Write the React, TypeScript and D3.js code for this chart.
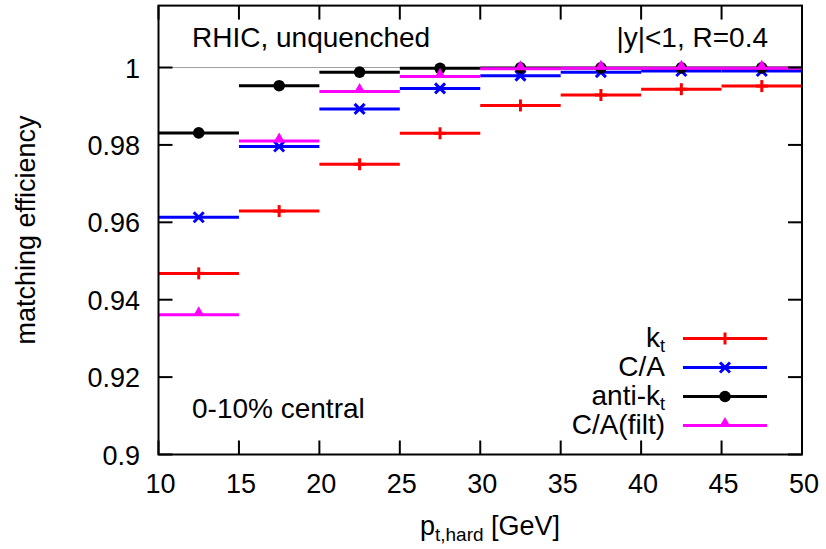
import React from "react";
import * as d3 from "d3";

const binLows = [10, 15, 20, 25, 30, 35, 40, 45];
const binWidth = 5;
const ktValues = [0.9468, 0.9629, 0.975, 0.983, 0.9902, 0.9929, 0.9944, 0.9952];
const caValues = [0.9613, 0.9796, 0.9893, 0.9946, 0.9979, 0.9988, 0.9991, 0.9991];
const antiKtValues = [0.9831, 0.9953, 0.9988, 0.9998, 0.9999, 0.9999, 0.9999, 0.9999];
const caFiltValues = [0.9361, 0.981, 0.9938, 0.9977, 0.9997, 0.9998, 0.9998, 0.9998];
const xTicks = [10, 15, 20, 25, 30, 35, 40, 45, 50];
const yTicks = [0.9, 0.92, 0.94, 0.96, 0.98, 1];
const yTickLabels = ["0.9", "0.92", "0.94", "0.96", "0.98", "1"];

const W = 826;
const H = 549;
const L = 158.5, R = 802, T = 5.6, B = 454.5;
const FONT = "'Liberation Sans', Arial, Helvetica, sans-serif";

const x = d3.scaleLinear().domain([10, 50]).range([L, R]);
const y = d3.scaleLinear().domain([0.9, 1.016]).range([B, T]);

type Kind = "plus" | "cross" | "circle" | "triangle";

function Marker({ cx, cy, kind, color }: { cx: number; cy: number; kind: Kind; color: string }) {
  if (kind === "plus") {
    const s = 6;
    return (
      <g stroke={color} strokeWidth={3}>
        <line x1={cx - s} x2={cx + s} y1={cy} y2={cy} />
        <line x1={cx} x2={cx} y1={cy - s} y2={cy + s} />
      </g>
    );
  }
  if (kind === "cross") {
    const s = 5;
    return (
      <g stroke={color} strokeWidth={3}>
        <line x1={cx - s} x2={cx + s} y1={cy - s} y2={cy + s} />
        <line x1={cx - s} x2={cx + s} y1={cy + s} y2={cy - s} />
      </g>
    );
  }
  if (kind === "circle") {
    return <circle cx={cx} cy={cy} r={5.8} fill={color} />;
  }
  const path = d3.symbol().type(d3.symbolTriangle).size(55)() as string;
  return <path d={path} transform={`translate(${cx},${cy - 2})`} fill={color} />;
}

const series: { name: string; values: number[]; color: string; kind: Kind; sub: boolean; base: string }[] = [
  { name: "kt", base: "k", sub: true, values: ktValues, color: "#ff0000", kind: "plus" },
  { name: "ca", base: "C/A", sub: false, values: caValues, color: "#0000ff", kind: "cross" },
  { name: "antikt", base: "anti-k", sub: true, values: antiKtValues, color: "#000000", kind: "circle" },
  { name: "cafilt", base: "C/A(filt)", sub: false, values: caFiltValues, color: "#ff00ff", kind: "triangle" },
];

const legendRows = [338.5, 367.5, 396.5, 425.5];

export default function App() {
  const tickLen = 14;
  return (
    <svg
      width={W}
      height={H}
      style={{ position: "absolute", left: 0, top: 0, background: "#fff" }}
      fontFamily={FONT}
    >
      <rect x={0} y={0} width={W} height={H} fill="#fff" />
      {/* reference line at 1 */}
      <line x1={L} x2={R} y1={y(1)} y2={y(1)} stroke="#a0a0a0" strokeWidth={1} />

      {/* data */}
      {series.map((s) => (
        <g key={s.name}>
          {s.values.map((v, i) => {
            const lo = binLows[i];
            const hi = lo + binWidth;
            return (
              <g key={i}>
                <line x1={x(lo)} x2={x(hi)} y1={y(v)} y2={y(v)} stroke={s.color} strokeWidth={3} />
                <Marker cx={x(lo + binWidth / 2)} cy={y(v)} kind={s.kind} color={s.color} />
              </g>
            );
          })}
        </g>
      ))}

      {/* ticks */}
      {xTicks.map((t) => (
        <g key={"xt" + t}>
          <line x1={x(t)} x2={x(t)} y1={B} y2={B - tickLen} stroke="#000" strokeWidth={2} />
          <line x1={x(t)} x2={x(t)} y1={T} y2={T + tickLen} stroke="#000" strokeWidth={2} />
          <text x={x(t) + 2} y={493} fontSize={27} textAnchor="middle" fill="#000">
            {t}
          </text>
        </g>
      ))}
      {yTicks.map((t, i) => (
        <g key={"yt" + t}>
          <line x1={L} x2={L + tickLen} y1={y(t)} y2={y(t)} stroke="#000" strokeWidth={2} />
          <line x1={R} x2={R - tickLen} y1={y(t)} y2={y(t)} stroke="#000" strokeWidth={2} />
          <text x={140} y={y(t) + 10} fontSize={27} textAnchor="end" fill="#000">
            {yTickLabels[i]}
          </text>
        </g>
      ))}

      {/* frame */}
      <rect x={L} y={T} width={R - L} height={B - T} fill="none" stroke="#000" strokeWidth={2} />

      {/* annotations */}
      <text x={192} y={47} fontSize={28} fill="#000">RHIC, unquenched</text>
      <text x={768} y={47} fontSize={28} textAnchor="end" fill="#000">|y|&lt;1, R=0.4</text>
      <text x={192} y={418} fontSize={28} fill="#000">0-10% central</text>

      {/* legend */}
      {series.map((s, i) => {
        const ry = legendRows[i];
        return (
          <g key={"lg" + s.name}>
            <text x={665} y={ry + 8} fontSize={28} textAnchor="end" fill="#000">
              {s.base}
              {s.sub ? (
                <tspan fontSize={18} dy={5}>t</tspan>
              ) : null}
            </text>
            <line x1={683} x2={767} y1={ry} y2={ry} stroke={s.color} strokeWidth={3} />
            <Marker cx={725} cy={ry} kind={s.kind} color={s.color} />
          </g>
        );
      })}

      {/* axis labels */}
      <text
        transform={`translate(35,${(T + B) / 2}) rotate(-90)`}
        fontSize={27}
        textAnchor="middle"
        fill="#000"
      >
        matching efficiency
      </text>
      <text x={490} y={535} fontSize={27} textAnchor="middle" fill="#000">
        p<tspan fontSize={19} dy={6}>t,hard</tspan>
        <tspan dy={-6}> [GeV]</tspan>
      </text>
    </svg>
  );
}
